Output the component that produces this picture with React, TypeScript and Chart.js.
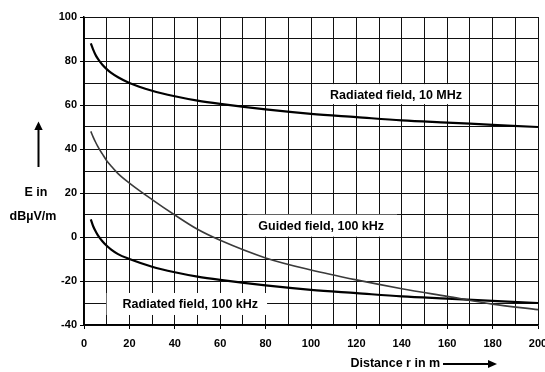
import React, { useEffect, useRef } from "react";
import { Chart, registerables } from "chart.js";

Chart.register(...registerables);

// Distance r in m
const distances = [3, 4, 5, 6, 7, 8, 10, 12, 15, 20, 30, 40, 50, 60, 80, 100, 120, 140, 160, 180, 200];
// E in dBµV/m
const radiated10MHz = [88, 85.3, 83, 81.2, 79.7, 78.4, 76.3, 74.6, 72.6, 70, 66.5, 64, 62, 60.5, 58, 56, 54.5, 53, 52, 51, 50];
const guided100kHz = [48, 45.5, 43.3, 41.3, 39.5, 37.9, 34.7, 32.2, 28.8, 24.5, 17, 10, 3.5, -1.5, -9.5, -15, -19.5, -23.5, -27, -30.5, -33];
const radiated100kHz = [8, 5, 2.8, 1, -0.5, -1.8, -4, -5.7, -7.8, -10, -13.5, -16, -18, -19.5, -22, -24, -25.5, -27, -28, -29, -30];

const xTicks = { min: 0, max: 200, step: 10, labelStep: 20 };
const yTicks = { min: -40, max: 100, step: 10, labelStep: 20 };

const curveLabels = [
  { text: "Radiated field, 10 MHz", x: 108.4, y: 64.5, padL: 7, padR: 6, up: 11, down: 9 },
  { text: "Guided field, 100 kHz", x: 76.8, y: 4.7, padL: 11, padR: 13, up: 12, down: 10 },
  { text: "Radiated field, 100 kHz", x: 17, y: -30.9, padL: 16, padR: 9, up: 12, down: 10 },
];

const FAMILY = '"Liberation Sans", Arial, Helvetica, sans-serif';
const LABEL_FONT = `bold 12.5px ${FAMILY}`;

const pts = (ys: number[]) => distances.map((x, i) => ({ x, y: ys[i] }));

const labelPlugin = {
  id: "curveLabels",
  beforeDatasetsDraw(chart: any) {
    const { ctx, scales } = chart;
    ctx.save();
    ctx.font = LABEL_FONT;
    for (const l of curveLabels) {
      const px = scales.x.getPixelForValue(l.x);
      const py = scales.y.getPixelForValue(l.y);
      const w = ctx.measureText(l.text).width;
      ctx.fillStyle = "#fff";
      ctx.fillRect(px - l.padL, py - l.up, w + l.padL + l.padR, l.up + l.down);
      ctx.fillStyle = "#000";
      ctx.textBaseline = "middle";
      ctx.textAlign = "left";
      ctx.fillText(l.text, px, py);
    }
    ctx.restore();
  },
};

const titlePlugin = {
  id: "axisTitles",
  afterDraw(chart: any) {
    const { ctx } = chart;
    ctx.save();
    ctx.fillStyle = "#000";
    ctx.strokeStyle = "#000";
    ctx.font = LABEL_FONT;
    ctx.textBaseline = "middle";
    ctx.textAlign = "center";
    ctx.fillText("E in", 36, 193);
    ctx.fillText("dBµV/m", 33, 217);
    // up arrow
    ctx.lineWidth = 2;
    ctx.beginPath();
    ctx.moveTo(38.5, 167);
    ctx.lineTo(38.5, 128);
    ctx.stroke();
    ctx.beginPath();
    ctx.moveTo(38.5, 121.5);
    ctx.lineTo(34.3, 130);
    ctx.lineTo(42.7, 130);
    ctx.closePath();
    ctx.fill();
    // x title
    ctx.textAlign = "left";
    ctx.fillText("Distance r in m", 350.5, 364);
    ctx.beginPath();
    ctx.moveTo(443, 364);
    ctx.lineTo(490, 364);
    ctx.stroke();
    ctx.beginPath();
    ctx.moveTo(497, 364);
    ctx.lineTo(488, 360);
    ctx.lineTo(488, 368);
    ctx.closePath();
    ctx.fill();
    ctx.restore();
  },
};

export default function App() {
  const ref = useRef<HTMLCanvasElement>(null);

  useEffect(() => {
    document.body.style.margin = "0";
    const canvas = ref.current!;
    const tickFont = { family: FAMILY, size: 11, weight: "bold" as const };
    const chart = new Chart(canvas, {
      type: "line",
      data: {
        datasets: [
          {
            label: "Radiated field, 10 MHz",
            data: pts(radiated10MHz),
            borderColor: "#000",
            borderWidth: 2.2,
            pointRadius: 0,
            cubicInterpolationMode: "monotone",
          },
          {
            label: "Guided field, 100 kHz",
            data: pts(guided100kHz),
            borderColor: "#3a3a3a",
            borderWidth: 1.6,
            pointRadius: 0,
            cubicInterpolationMode: "monotone",
          },
          {
            label: "Radiated field, 100 kHz",
            data: pts(radiated100kHz),
            borderColor: "#000",
            borderWidth: 2.2,
            pointRadius: 0,
            cubicInterpolationMode: "monotone",
          },
        ],
      },
      options: {
        animation: false,
        responsive: false,
        devicePixelRatio: 1,
        layout: { padding: { left: 0, top: 17, right: 7, bottom: 0 } },
        plugins: { legend: { display: false }, tooltip: { enabled: false } },
        scales: {
          x: {
            type: "linear",
            min: xTicks.min,
            max: xTicks.max,
            afterFit: (s: any) => {
              s.height = 47;
              s.paddingLeft = 0;
              s.paddingRight = 0;
            },
            ticks: {
              stepSize: xTicks.step,
              autoSkip: false,
              maxRotation: 0,
              padding: 8,
              color: "#000",
              font: tickFont,
              callback: (v: any) => (Number(v) % xTicks.labelStep === 0 ? String(v) : ""),
            },
            grid: {
              color: "#111",
              lineWidth: 1,
              tickLength: 4,
              tickColor: (c: any) => (c.tick && c.tick.value % xTicks.labelStep === 0 ? "#000" : "rgba(0,0,0,0)"),
            },
            border: { color: "#000", width: 1.5 },
          },
          y: {
            type: "linear",
            min: yTicks.min,
            max: yTicks.max,
            afterFit: (s: any) => {
              s.width = 84;
            },
            ticks: {
              stepSize: yTicks.step,
              autoSkip: false,
              padding: 3,
              color: "#000",
              font: tickFont,
              callback: (v: any) => (Number(v) % yTicks.labelStep === 0 ? String(v) : ""),
            },
            grid: {
              color: "#111",
              lineWidth: 1,
              tickLength: 4,
              tickColor: (c: any) => (c.tick && c.tick.value % yTicks.labelStep === 0 ? "#000" : "rgba(0,0,0,0)"),
            },
            border: { color: "#000", width: 1.5 },
          },
        },
      },
      plugins: [labelPlugin, titlePlugin],
    } as any);
    return () => chart.destroy();
  }, []);

  return (
    <div style={{ width: 545, height: 372, background: "#fff" }}>
      <canvas ref={ref} width={545} height={372} style={{ display: "block", width: 545, height: 372 }} />
    </div>
  );
}
